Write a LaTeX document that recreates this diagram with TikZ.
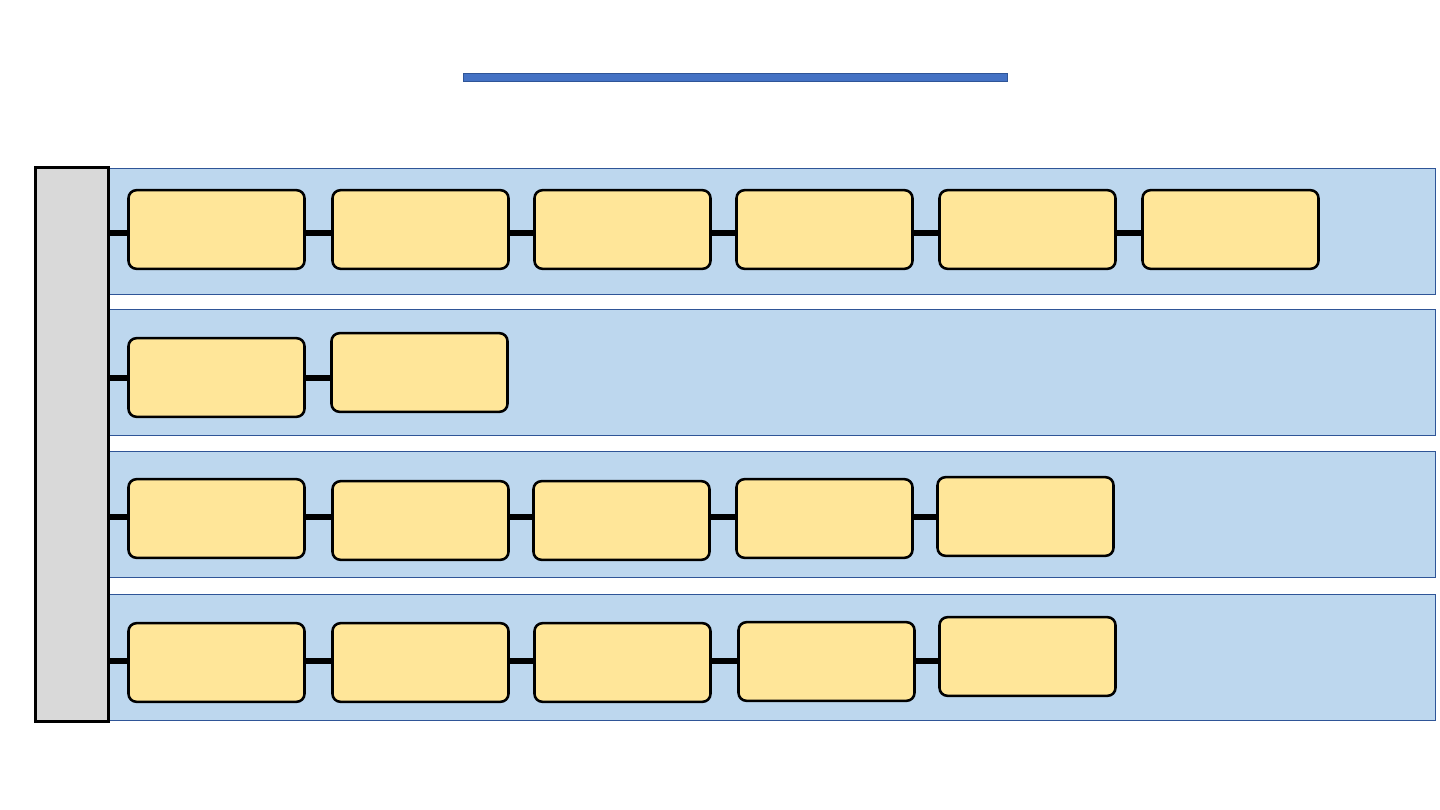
\documentclass[tikz,border=0pt]{standalone}
\usetikzlibrary{backgrounds}
\definecolor{titleblue}{HTML}{4472C4}
\definecolor{bandblue}{HTML}{BDD7EE}
\definecolor{bandedge}{HTML}{2F5597}
\definecolor{boxyellow}{HTML}{FFE699}
\definecolor{bargray}{HTML}{D9D9D9}
\tikzset{
  bx/.style={draw=black,fill=boxyellow,line width=1.9pt,rounded corners=6pt,minimum width=132pt,minimum height=59pt,inner sep=0pt},
  band/.style={draw=bandedge,fill=bandblue,line width=0.6pt,inner sep=0pt},
  link/.style={line width=3.8pt,draw=black}
}
\begin{document}
\begin{tikzpicture}[x=0.75pt,y=-0.75pt]
\useasboundingbox (0,0) rectangle (1440,810);
\fill[white] (0,0) rectangle (1440,810);
\node[draw=bandedge,fill=titleblue,line width=0.5pt,minimum width=408pt,minimum height=6pt,inner sep=0pt] (title) at (735,77) {};
% bands
\node[band,minimum width=995pt,minimum height=95pt] (band1) at (772.5,231.5) {};
\node[band,minimum width=995pt,minimum height=95pt] (band2) at (772.5,372.5) {};
\node[band,minimum width=995pt,minimum height=95pt] (band3) at (772.5,514.5) {};
\node[band,minimum width=995pt,minimum height=95pt] (band4) at (772.5,657.5) {};
\node[draw=black,fill=bargray,line width=2.2pt,minimum width=55pt,minimum height=415pt,inner sep=0pt] (bar) at (72,444.5) {};
% row 1
\coordinate (r1) at (109,233);
\foreach \i/\x in {1/216.5,2/420.5,3/622.5,4/824.5,5/1027.5,6/1230.5}
  \node[bx] (a\i) at (\x,229.5) {};
% row 2
\coordinate (r2) at (109,378);
\node[bx] (b1) at (216.5,377.5) {};
\node[bx] (b2) at (419.5,372.5) {};
% row 3
\coordinate (r3) at (109,517);
\node[bx] (c1) at (216.5,518.5) {};
\node[bx] (c2) at (420.5,520.5) {};
\node[bx] (c3) at (621.5,520.5) {};
\node[bx] (c4) at (824.5,518.5) {};
\node[bx] (c5) at (1025.5,516.5) {};
% row 4
\coordinate (r4) at (109,661);
\node[bx] (d1) at (216.5,662.5) {};
\node[bx] (d2) at (420.5,662.5) {};
\node[bx] (d3) at (622.5,662.5) {};
\node[bx] (d4) at (826.5,661.5) {};
\node[bx] (d5) at (1027.5,656.5) {};
\begin{scope}[on background layer]
\end{scope}
% connectors drawn between nodes at row heights
\draw[link] (r1) -- (a1.west |- r1);
\foreach \p/\q in {a1/a2,a2/a3,a3/a4,a4/a5,a5/a6} \draw[link] (\p.east |- r1) -- (\q.west |- r1);
\draw[link] (r2) -- (b1.west |- r2);
\draw[link] (b1.east |- r2) -- (b2.west |- r2);
\draw[link] (r3) -- (c1.west |- r3);
\foreach \p/\q in {c1/c2,c2/c3,c3/c4,c4/c5} \draw[link] (\p.east |- r3) -- (\q.west |- r3);
\draw[link] (r4) -- (d1.west |- r4);
\foreach \p/\q in {d1/d2,d2/d3,d3/d4,d4/d5} \draw[link] (\p.east |- r4) -- (\q.west |- r4);
\end{tikzpicture}
\end{document}
